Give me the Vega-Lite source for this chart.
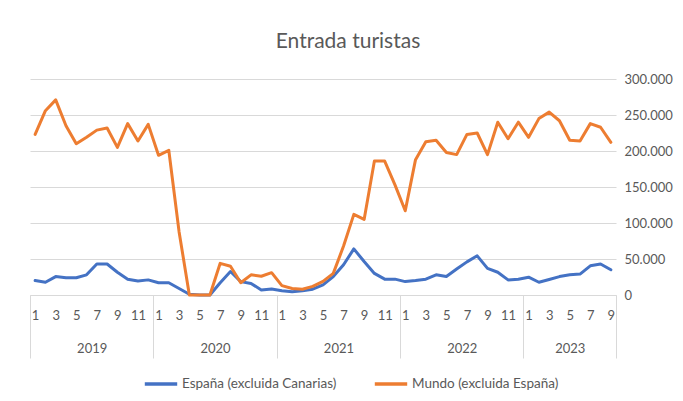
{
  "$schema": "https://vega.github.io/schema/vega-lite/v6.json",
  "width": 586,
  "height": 216,
  "padding": {"left": 27, "top": 31, "right": 10, "bottom": 5},
  "config": {"font": "Lato", "view": {"stroke": null}},
  "title": {"text": "Entrada turistas", "fontSize": 21, "fontWeight": "normal", "color": "#595959", "offset": 21, "font": "Lato", "dx": 25},
  "layer": [
    {
      "data": {"values": [
        {"i":0,"España (excluida Canarias)":20000,"Mundo (excluida España)":223000},
        {"i":1,"España (excluida Canarias)":17700,"Mundo (excluida España)":256000},
        {"i":2,"España (excluida Canarias)":25600,"Mundo (excluida España)":271000},
        {"i":3,"España (excluida Canarias)":24000,"Mundo (excluida España)":235000},
        {"i":4,"España (excluida Canarias)":24000,"Mundo (excluida España)":210000},
        {"i":5,"España (excluida Canarias)":28000,"Mundo (excluida España)":219000},
        {"i":6,"España (excluida Canarias)":43000,"Mundo (excluida España)":229000},
        {"i":7,"España (excluida Canarias)":43000,"Mundo (excluida España)":232000},
        {"i":8,"España (excluida Canarias)":31600,"Mundo (excluida España)":205000},
        {"i":9,"España (excluida Canarias)":22000,"Mundo (excluida España)":238000},
        {"i":10,"España (excluida Canarias)":19500,"Mundo (excluida España)":214000},
        {"i":11,"España (excluida Canarias)":21000,"Mundo (excluida España)":237000},
        {"i":12,"España (excluida Canarias)":17000,"Mundo (excluida España)":194000},
        {"i":13,"España (excluida Canarias)":17000,"Mundo (excluida España)":201000},
        {"i":14,"España (excluida Canarias)":9000,"Mundo (excluida España)":88000},
        {"i":15,"España (excluida Canarias)":1000,"Mundo (excluida España)":0},
        {"i":16,"España (excluida Canarias)":0,"Mundo (excluida España)":0},
        {"i":17,"España (excluida Canarias)":0,"Mundo (excluida España)":0},
        {"i":18,"España (excluida Canarias)":17000,"Mundo (excluida España)":44000},
        {"i":19,"España (excluida Canarias)":32600,"Mundo (excluida España)":40000},
        {"i":20,"España (excluida Canarias)":18600,"Mundo (excluida España)":17000},
        {"i":21,"España (excluida Canarias)":16000,"Mundo (excluida España)":28000},
        {"i":22,"España (excluida Canarias)":7000,"Mundo (excluida España)":26000},
        {"i":23,"España (excluida Canarias)":8400,"Mundo (excluida España)":31000},
        {"i":24,"España (excluida Canarias)":6000,"Mundo (excluida España)":13000},
        {"i":25,"España (excluida Canarias)":4600,"Mundo (excluida España)":9000},
        {"i":26,"España (excluida Canarias)":6000,"Mundo (excluida España)":8000},
        {"i":27,"España (excluida Canarias)":8000,"Mundo (excluida España)":12000},
        {"i":28,"España (excluida Canarias)":14000,"Mundo (excluida España)":19000},
        {"i":29,"España (excluida Canarias)":25600,"Mundo (excluida España)":30000},
        {"i":30,"España (excluida Canarias)":42000,"Mundo (excluida España)":68000},
        {"i":31,"España (excluida Canarias)":64000,"Mundo (excluida España)":112000},
        {"i":32,"España (excluida Canarias)":46500,"Mundo (excluida España)":105000},
        {"i":33,"España (excluida Canarias)":30000,"Mundo (excluida España)":186000},
        {"i":34,"España (excluida Canarias)":22000,"Mundo (excluida España)":186000},
        {"i":35,"España (excluida Canarias)":22000,"Mundo (excluida España)":153000},
        {"i":36,"España (excluida Canarias)":18600,"Mundo (excluida España)":117000},
        {"i":37,"España (excluida Canarias)":20000,"Mundo (excluida España)":188000},
        {"i":38,"España (excluida Canarias)":22000,"Mundo (excluida España)":213000},
        {"i":39,"España (excluida Canarias)":28000,"Mundo (excluida España)":215000},
        {"i":40,"España (excluida Canarias)":25600,"Mundo (excluida España)":198000},
        {"i":41,"España (excluida Canarias)":36000,"Mundo (excluida España)":195000},
        {"i":42,"España (excluida Canarias)":46000,"Mundo (excluida España)":223000},
        {"i":43,"España (excluida Canarias)":54400,"Mundo (excluida España)":225000},
        {"i":44,"España (excluida Canarias)":37000,"Mundo (excluida España)":195000},
        {"i":45,"España (excluida Canarias)":31600,"Mundo (excluida España)":240000},
        {"i":46,"España (excluida Canarias)":21000,"Mundo (excluida España)":217000},
        {"i":47,"España (excluida Canarias)":22000,"Mundo (excluida España)":240000},
        {"i":48,"España (excluida Canarias)":24700,"Mundo (excluida España)":219000},
        {"i":49,"España (excluida Canarias)":17700,"Mundo (excluida España)":245000},
        {"i":50,"España (excluida Canarias)":21500,"Mundo (excluida España)":254000},
        {"i":51,"España (excluida Canarias)":25600,"Mundo (excluida España)":242000},
        {"i":52,"España (excluida Canarias)":28000,"Mundo (excluida España)":215000},
        {"i":53,"España (excluida Canarias)":29000,"Mundo (excluida España)":214000},
        {"i":54,"España (excluida Canarias)":40500,"Mundo (excluida España)":238000},
        {"i":55,"España (excluida Canarias)":43000,"Mundo (excluida España)":233000},
        {"i":56,"España (excluida Canarias)":35000,"Mundo (excluida España)":212000}
      ]},
      "transform": [{"fold": ["España (excluida Canarias)", "Mundo (excluida España)"], "as": ["serie", "valor"]}],
      "mark": {"type": "line", "strokeWidth": 3, "strokeJoin": "round", "strokeCap": "round"},
      "encoding": {
        "x": {"field": "i", "type": "quantitative",
          "scale": {"domain": [-0.5, 56.5], "nice": false, "zero": false},
          "axis": {"orient": "bottom", "values": [0,2,4,6,8,10,12,14,16,18,20,22,24,26,28,30,32,34,36,38,40,42,44,46,48,50,52,54,56],
            "labelExpr": "(datum.value % 12) + 1", "ticks": false, "grid": false, "domainColor": "#d9d9d9",
            "labelColor": "#595959", "labelFontSize": 13, "labelPadding": 14, "title": null, "labelFlush": false, "labelOverlap": false}},
        "y": {"field": "valor", "type": "quantitative",
          "scale": {"domain": [0, 300000], "nice": false},
          "axis": {"orient": "right", "values": [0,50000,100000,150000,200000,250000,300000],
            "labelExpr": "replace(format(datum.value, ','), ',', '.')", "domain": false, "ticks": false, "labelOverlap": false,
            "gridColor": "#d9d9d9", "labelColor": "#595959", "labelFontSize": 13, "labelPadding": 8, "title": null}},
        "color": {"field": "serie", "type": "nominal",
          "scale": {"domain": ["España (excluida Canarias)", "Mundo (excluida España)"], "range": ["#4472C4", "#ED7D31"]},
          "legend": {"orient": "none", "legendX": 113, "legendY": 287, "direction": "horizontal", "title": null, "symbolType": "stroke",
            "symbolStrokeWidth": 3.5, "symbolSize": 1050, "labelColor": "#595959", "labelFontSize": 13.5, "labelOffset": 3,
            "columnPadding": 30}}
      }
    },
    {
      "data": {"values": [{"b": -0.5}, {"b": 11.5}, {"b": 23.5}, {"b": 35.5}, {"b": 47.5}, {"b": 56.5}]},
      "mark": {"type": "point", "opacity": 0},
      "encoding": {
        "x": {"field": "b", "type": "quantitative",
          "axis": {"orient": "bottom", "values": [-0.5, 11.5, 23.5, 35.5, 47.5, 56.5], "labels": false, "ticks": true,
            "tickSize": 63, "tickColor": "#d9d9d9", "tickWidth": 1, "domain": false, "grid": false, "title": null}}
      }
    },
    {
      "data": {"values": [{"m": 5.5}, {"m": 17.5}, {"m": 29.5}, {"m": 41.5}, {"m": 52}]},
      "mark": {"type": "point", "opacity": 0},
      "encoding": {
        "x": {"field": "m", "type": "quantitative",
          "axis": {"orient": "bottom", "values": [5.5, 17.5, 29.5, 41.5, 52], "labelExpr": "toString(2019 + floor(datum.value / 12))",
            "ticks": false, "domain": false, "grid": false, "title": null, "labelColor": "#595959", "labelFontSize": 13,
            "labelPadding": 47, "labelFlush": false}}
      }
    }
  ],
  "resolve": {"axis": {"x": "independent"}}
}
